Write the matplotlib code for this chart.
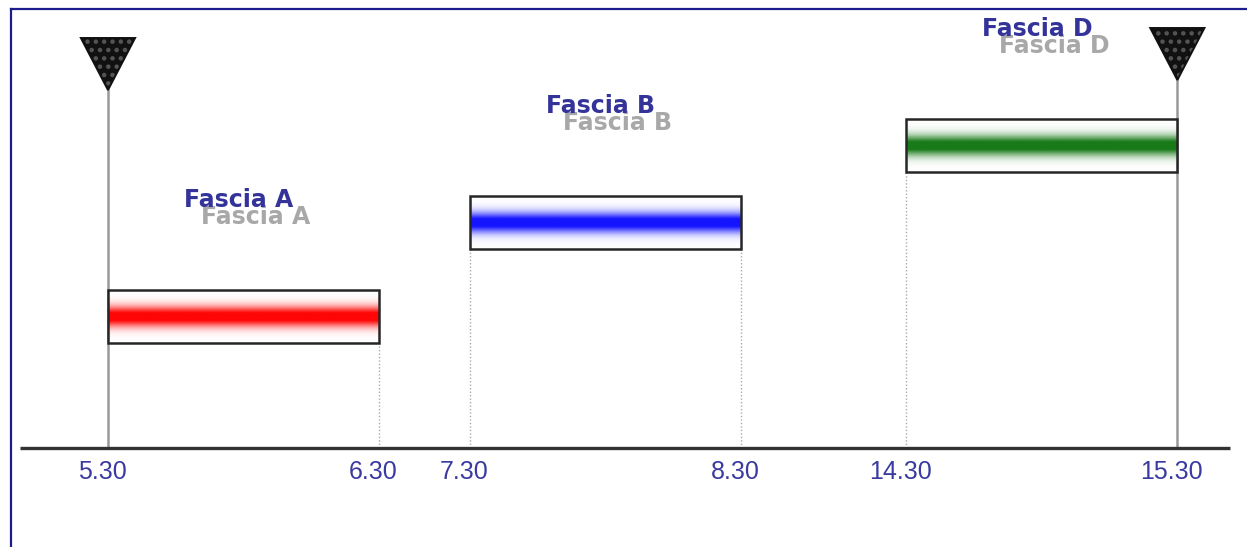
"""Schematic timeline of the time bands (fasce orarie)."""

import matplotlib.pyplot as plt
import numpy as np
from matplotlib.lines import Line2D
from matplotlib.patches import Polygon, Rectangle
from matplotlib.transforms import ScaledTranslation

# data
bands = ["Fascia A", "Fascia B", "Fascia D"]
start_labels = ["5.30", "7.30", "14.30"]
end_labels = ["6.30", "8.30", "15.30"]
levels = [1.32, 2.26, 3.03]
bar_colors = ["#ff0505", "#1414ff", "#197a19"]

# layout (schematic axis: each band is one unit wide, gaps are drawn shorter)
gaps = [0.336, 0.61]
bar_h = 0.53

plt.rcParams["hatch.linewidth"] = 2.0

starts = []
pos = 0.0
for i in range(len(bands)):
    starts.append(pos)
    pos += 1.0 + (gaps[i] if i < len(gaps) else 0)
ends = [s + 1.0 for s in starts]

fig = plt.figure(figsize=(12.47, 5.47), dpi=100)
ax = fig.add_axes([0, 0, 1, 1])
ax.set_xlim(-0.3985, 4.203)
ax.set_ylim(-0.99, 4.48)
ax.axis("off")

# gradient profile: white at the edges, full colour in the middle
yy = np.linspace(-1, 1, 200)
w = np.clip(1.15 * np.exp(-(yy / 0.38) ** 2), 0, 1)[:, None, None]

for i, band in enumerate(bands):
    x0, x1, lev = starts[i], ends[i], levels[i]
    rgb = np.array(plt.matplotlib.colors.to_rgb(bar_colors[i]))
    img = (1 - w) * np.ones(3) + w * rgb
    ax.imshow(img, extent=[x0, x1, lev - bar_h / 2, lev + bar_h / 2],
              aspect="auto", zorder=3, interpolation="bilinear")
    ax.add_patch(Rectangle((x0, lev - bar_h / 2), x1 - x0, bar_h,
                           fill=False, edgecolor="#262626", lw=1.8, zorder=4))

    # dotted drop lines from the bar to the axis
    for xe in (x0, x1):
        if (i == 0 and xe == x0) or (i == len(bands) - 1 and xe == x1):
            continue
        ax.plot([xe, xe], [0, lev - bar_h / 2], color="#aaaaaa", lw=1,
                ls=(0, (1, 1.5)), zorder=2)

    # label with grey shadow
    shadow = ax.transData + ScaledTranslation(0.17, -0.17, fig.dpi_scale_trans)
    ax.text(x0 + 0.28, lev + 1.16, band, color="#a8a8a8", fontsize=17,
            fontweight="bold", va="center", ha="left", transform=shadow, zorder=5)
    ax.text(x0 + 0.28, lev + 1.16, band, color="#333399", fontsize=17,
            fontweight="bold", va="center", ha="left", zorder=6)

# tick labels under the axis
for i in range(len(bands)):
    for xe, lab in ((starts[i], start_labels[i]), (ends[i], end_labels[i])):
        ax.text(xe - 0.022, -0.24, lab, color="#3a3aa0", fontsize=18,
                family="Liberation Sans", ha="center", va="center")

# start / end markers
tri_tops = [4.10, 4.20]
for xm, top in zip((starts[0], ends[-1]), tri_tops):
    ax.plot([xm, xm], [0, top - 0.52], color="#999999", lw=1.8, zorder=2)
    verts = [(xm - 0.1, top), (xm + 0.1, top), (xm, top - 0.52)]
    ax.add_patch(Polygon(verts, closed=True, facecolor="#111111",
                         edgecolor="#555555", hatch="..", lw=0, zorder=4))
    ax.add_patch(Polygon(verts, closed=True, fill=False,
                         edgecolor="#111111", lw=1.4, zorder=5))

# time axis
ax.plot([-0.325, 4.14], [0, 0], color="#333333", lw=2.4, zorder=3,
        solid_capstyle="butt")

# frame on the left and top
fig.add_artist(Line2D([11 / 1247, 11 / 1247], [0, 1 - 9 / 547],
                      color="#1c1c8c", lw=1.6))
fig.add_artist(Line2D([11 / 1247, 1], [1 - 9 / 547, 1 - 9 / 547],
                      color="#1c1c8c", lw=1.6))

fig.savefig("out.png", dpi=100)
